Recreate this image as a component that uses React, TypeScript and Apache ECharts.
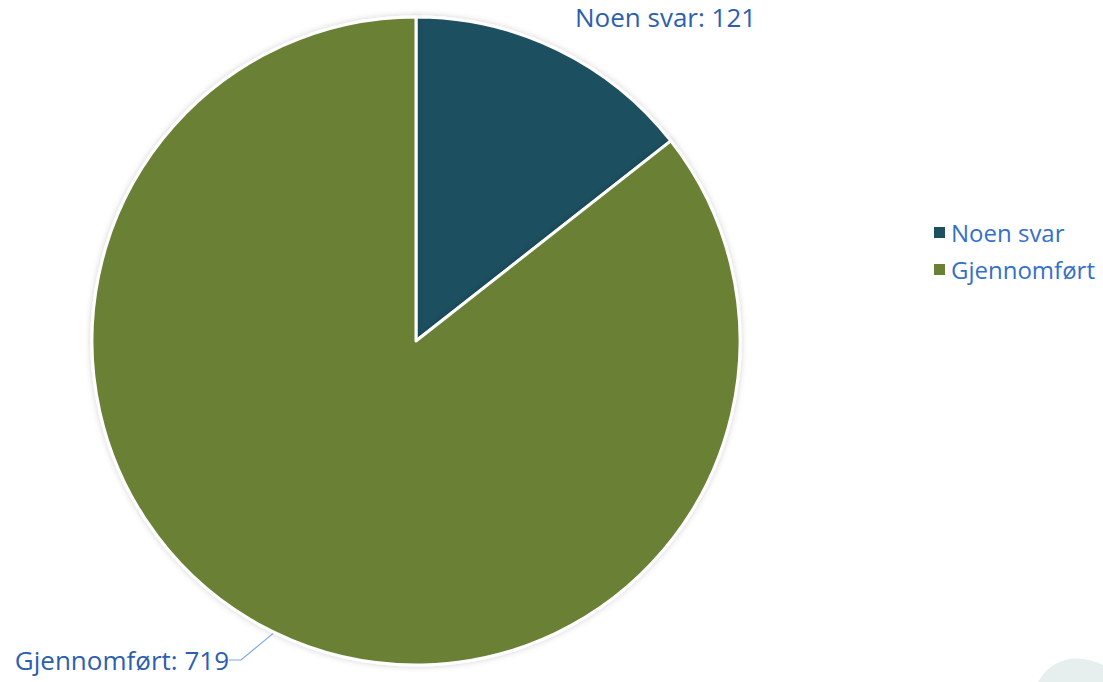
import React, { useEffect, useRef } from "react";
import * as echarts from "echarts";

const categories = ["Noen svar", "Gjennomført"];
const values = [121, 719];
const colors = ["#1E4F5E", "#6A8035"];

export default function App() {
  const ref = useRef<HTMLDivElement>(null);
  useEffect(() => {
    document.body.style.margin = "0";
    const chart = echarts.init(ref.current!, null, { renderer: "svg" });
    const font = "'Open Sans', sans-serif";
    chart.setOption({
      animation: false,
      backgroundColor: "#ffffff",
      graphic: [
        {
          type: "ellipse",
          shape: { cx: 1095, cy: 735, rx: 58, ry: 82 },
          rotation: 0.5,
          originX: 1095,
          originY: 735,
          style: { fill: "#E6EEEE" },
          z: 0,
        },
      ],
      legend: {
        orient: "vertical",
        left: 929,
        top: 214,
        icon: "rect",
        itemWidth: 11,
        itemHeight: 11,
        itemGap: 10,
        itemStyle: { borderWidth: 0, shadowBlur: 0 },
        textStyle: {
          color: "#3570C8",
          fontFamily: font,
          fontSize: 24,
          lineHeight: 27,
          padding: [0, 0, 0, 1],
        },
        data: categories,
      },
      series: [
        {
          type: "pie",
          center: [416, 341],
          radius: 324,
          startAngle: 90,
          clockwise: true,
          itemStyle: {
            borderColor: "#ffffff",
            borderWidth: 3,
            shadowBlur: 6,
            shadowColor: "rgba(0,0,0,0.18)",
          },
          label: {
            show: true,
            position: "outside",
            formatter: "{b}: {c}",
            color: "#2D5FAE",
            fontFamily: font,
            fontSize: 26,
          },
          labelLine: {
            show: true,
            length: 20,
            length2: 12,
            lineStyle: { color: "#7FA8E2", width: 1.2 },
          },
          labelLayout: (params: any) => {
            if (params.dataIndex === 0) {
              return { x: 575, y: 17, align: "left", verticalAlign: "middle" };
            }
            return { x: 229, y: 660, align: "right", verticalAlign: "middle" };
          },
          emphasis: { disabled: true },
          data: categories.map((name, i) => ({
            name,
            value: values[i],
            itemStyle: { color: colors[i] },
            labelLine: { show: i === 1 },
          })),
        },
      ],
    });
    return () => chart.dispose();
  }, []);
  return <div ref={ref} style={{ width: 1103, height: 682 }} />;
}
